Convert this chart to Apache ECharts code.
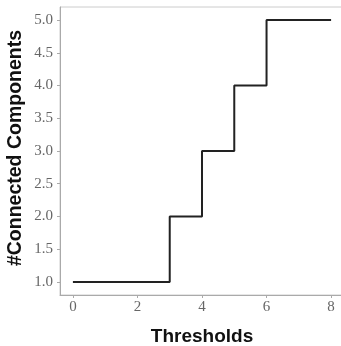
<!DOCTYPE html>
<html><head><meta charset="utf-8">
<script src="https://cdn.jsdelivr.net/npm/echarts@6/dist/echarts.min.js"></script>
<style>html,body{margin:0;padding:0;background:#fff}#c{width:341px;height:346px}</style>
</head><body><div id="c"></div>
<script>
const thresholds = [0, 3, 4, 5, 6, 8];
const components = [1, 2, 3, 4, 5, 5];
const xTicks = [0, 2, 4, 6, 8];
const yTicks = [1.0, 1.5, 2.0, 2.5, 3.0, 3.5, 4.0, 4.5, 5.0];
const xTitle = 'Thresholds';
const yTitle = '#Connected Components';

const chart = echarts.init(document.getElementById('c'));
const labelFont = {fontFamily: 'Liberation Serif', fontSize: 15, color: '#666'};
chart.setOption({
  animation: false,
  grid: {left: 60, top: 7, right: -3, bottom: 51, show: true, borderColor: '#ccc', borderWidth: 1, outerBoundsMode: 'none', containLabel: false},
  graphic: [{
    type: 'text', x: 16, y: 148, rotation: Math.PI / 2,
    style: {text: yTitle, fontFamily: 'Liberation Sans', fontWeight: 'bold', fontSize: 19.5, fill: '#111', align: 'center', verticalAlign: 'middle'}
  }],
  xAxis: {
    type: 'value', min: -0.4, max: 8.4, interval: 2,
    name: xTitle, nameLocation: 'middle', nameGap: 32,
    nameTextStyle: {fontFamily: 'Liberation Sans', fontWeight: 'bold', fontSize: 19, color: '#111'},
    axisLine: {show: true, onZero: false, lineStyle: {color: '#aaa'}},
    splitLine: {show: false},
    axisLabel: Object.assign({margin: 5, customValues: xTicks, formatter: v => String(v)}, labelFont),
    axisTick: {show: true, length: 3, lineStyle: {color: '#aaa'}, customValues: xTicks}
  },
  yAxis: {
    type: 'value', min: 0.8, max: 5.2,
    axisLine: {show: true, onZero: false, lineStyle: {color: '#aaa'}},
    splitLine: {show: false},
    axisLabel: Object.assign({margin: 7, customValues: yTicks, formatter: v => v.toFixed(1)}, labelFont),
    axisTick: {show: true, length: 3, lineStyle: {color: '#aaa'}, customValues: yTicks}
  },
  series: [{
    type: 'line', step: 'end', symbol: 'none',
    data: thresholds.map((t, i) => [t, components[i]]),
    lineStyle: {color: '#222', width: 2}
  }]
});
</script></body></html>
